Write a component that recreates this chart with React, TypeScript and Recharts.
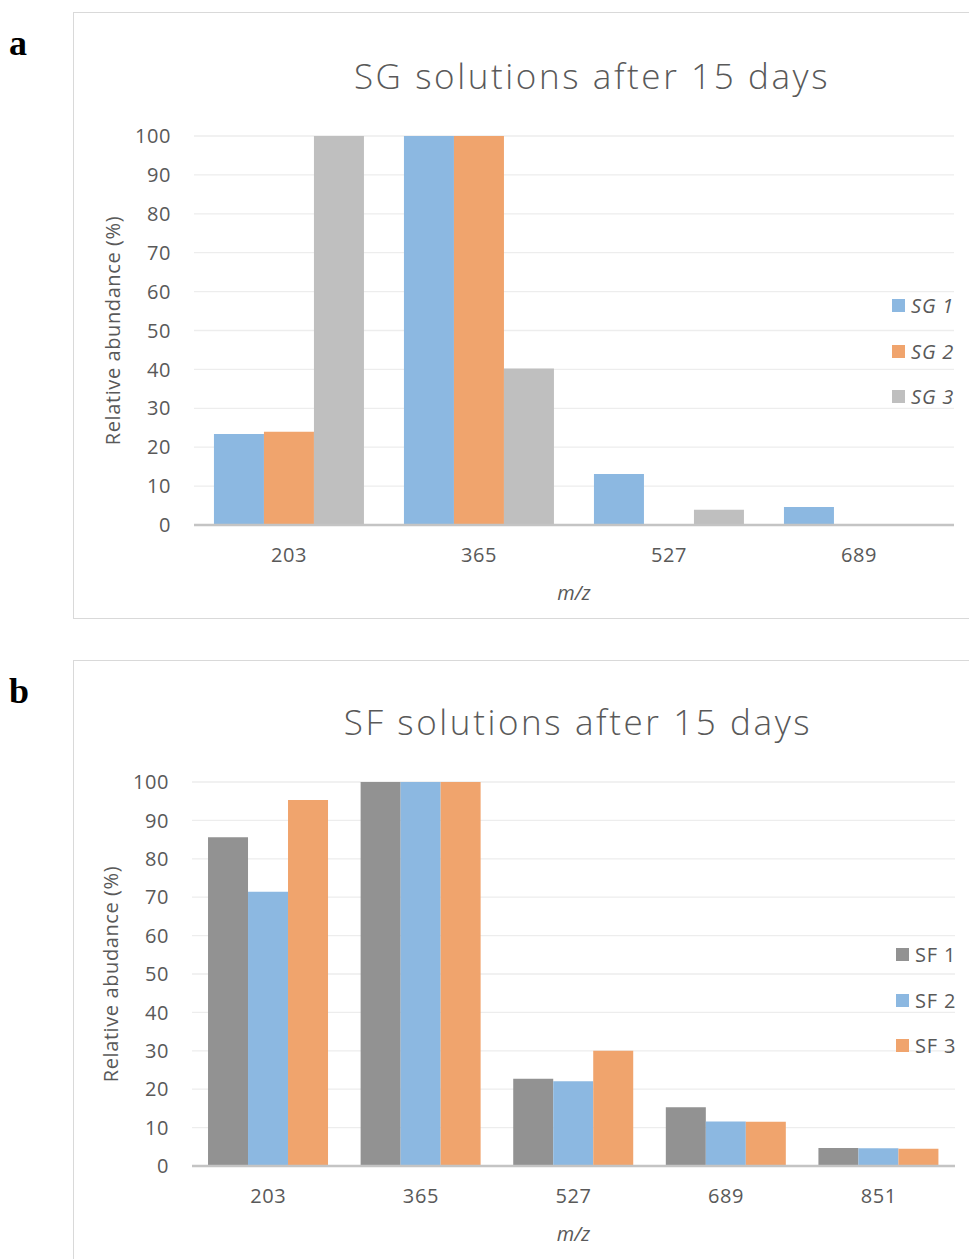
import { BarChart, Bar, XAxis, YAxis, CartesianGrid, Legend } from 'recharts'

// m/z peaks and relative abundance (%) for each solution
const sgMasses = ['203', '365', '527', '689']
const sg1 = [23.4, 100, 13.1, 4.6]
const sg2 = [24.0, 100, 0, 0]
const sg3 = [100, 40.2, 3.9, 0]

const sfMasses = ['203', '365', '527', '689', '851']
const sf1 = [85.6, 100, 22.7, 15.3, 4.7]
const sf2 = [71.4, 100, 22.1, 11.6, 4.6]
const sf3 = [95.3, 100, 30.0, 11.5, 4.5]

const yTicks = [0, 10, 20, 30, 40, 50, 60, 70, 80, 90, 100]

const BLUE = '#8CB8E1'
const ORANGE = '#F0A46D'
const LIGHT_GREY = '#BFBFBF'
const DARK_GREY = '#929292'
const TEXT = '#595959'
const FONT = '"Open Sans", sans-serif'

const sgData = sgMasses.map((mz, i) => ({ mz, sg1: sg1[i], sg2: sg2[i], sg3: sg3[i] }))
const sfData = sfMasses.map((mz, i) => ({ mz, sf1: sf1[i], sf2: sf2[i], sf3: sf3[i] }))

type Series = { key: string; name: string; color: string }

const sgSeries: Series[] = [
  { key: 'sg1', name: 'SG 1', color: BLUE },
  { key: 'sg2', name: 'SG 2', color: ORANGE },
  { key: 'sg3', name: 'SG 3', color: LIGHT_GREY }
]
const sfSeries: Series[] = [
  { key: 'sf1', name: 'SF 1', color: DARK_GREY },
  { key: 'sf2', name: 'SF 2', color: BLUE },
  { key: 'sf3', name: 'SF 3', color: ORANGE }
]

const LegendBox = ({ series, italic }: { series: Series[]; italic: boolean }) => (
  <div>
    {series.map((s) => (
      <div key={s.key} style={{ height: 45.5, display: 'flex', alignItems: 'center' }}>
        <span style={{ width: 13, height: 13, background: s.color, display: 'inline-block', marginRight: 6 }} />
        <span
          style={{
            fontFamily: FONT,
            fontSize: 20,
            letterSpacing: 0.8,
            color: TEXT,
            fontStyle: italic ? 'italic' : 'normal'
          }}
        >
          {s.name}
        </span>
      </div>
    ))}
  </div>
)

type PanelProps = {
  letter: string
  top: number
  height: number
  title: string
  titleX: number
  titleTop: number
  yLabel: string
  data: object[]
  series: Series[]
  italicLegend: boolean
  margin: { top: number; right: number; left: number; bottom: number }
  legendPos: { left: number; top: number }
}

const tickStyle = { fill: TEXT, fontSize: 20, fontFamily: FONT, letterSpacing: 0.6 }

const Panel = (p: PanelProps) => {
  const plotLeft = p.margin.left + 100
  const plotRight = 896 - p.margin.right
  const plotMid = (plotLeft + plotRight) / 2
  return (
    <>
      <div
        style={{
          position: 'absolute',
          left: 9,
          top: p.top + 13,
          fontFamily: '"Liberation Serif", serif',
          fontWeight: 'bold',
          fontSize: 36,
          lineHeight: '36px'
        }}
      >
        {p.letter}
      </div>
      <div
        style={{
          position: 'absolute',
          left: 73,
          top: p.top,
          width: 896,
          height: p.height,
          border: '1px solid #D9D9D9',
          background: '#fff'
        }}
      >
        <div
          style={{
            position: 'absolute',
            left: p.titleX - 300,
            width: 600,
            top: p.titleTop,
            textAlign: 'center',
            fontFamily: FONT,
            fontSize: 35,
            fontWeight: 300,
            letterSpacing: 2.6,
            color: TEXT,
            lineHeight: '44px'
          }}
        >
          {p.title}
        </div>
        <BarChart
          width={896}
          height={p.height}
          data={p.data}
          margin={p.margin}
          barCategoryGap="10.5%"
          barGap={0}
          style={{ position: 'absolute', left: 0, top: 0 }}
        >
          <CartesianGrid vertical={false} stroke="#EDEDED" strokeWidth={1.3} />
          <XAxis
            dataKey="mz"
            height={30}
            tickLine={false}
            tickSize={0}
            tickMargin={23}
            axisLine={{ stroke: '#C4C4C4', strokeWidth: 2.5 }}
            tick={tickStyle}
            label={{
              content: ({ viewBox }: any) => (
                <text
                  x={plotMid}
                  y={viewBox.y + 75}
                  textAnchor="middle"
                  fill={TEXT}
                  fontSize={20}
                  fontStyle="italic"
                  fontFamily={FONT}
                >
                  m/z
                </text>
              )
            }}
          />
          <YAxis
            width={100}
            domain={[0, 100]}
            ticks={yTicks}
            interval={0}
            axisLine={false}
            tickLine={false}
            tickSize={0}
            tickMargin={23}
            tick={tickStyle}
            label={{
              content: ({ viewBox }: any) => {
                const x = viewBox.x + 18
                const y = viewBox.y + viewBox.height / 2
                return (
                  <text
                    x={x}
                    y={y}
                    transform={`rotate(-90, ${x}, ${y})`}
                    textAnchor="middle"
                    dominantBaseline="central"
                    fill={TEXT}
                    fontSize={20}
                    letterSpacing={0.6}
                    fontFamily={FONT}
                  >
                    {p.yLabel}
                  </text>
                )
              }
            }}
          />
          <Legend
            layout="vertical"
            align="center"
            verticalAlign="middle"
            wrapperStyle={{ left: p.legendPos.left, top: p.legendPos.top, width: 80 }}
            content={() => <LegendBox series={p.series} italic={p.italicLegend} />}
          />
          {p.series.map((s) => (
            <Bar key={s.key} dataKey={s.key} name={s.name} fill={s.color} isAnimationActive={false} />
          ))}
        </BarChart>
      </div>
    </>
  )
}

const App = () => (
  <div style={{ position: 'absolute', left: 0, top: 0, width: 969, height: 1259, overflow: 'hidden', background: '#fff' }}>
    <Panel
      letter="a"
      top={12}
      height={605}
      title="SG solutions after 15 days"
      titleX={518}
      titleTop={41}
      yLabel="Relative abundance (%)"
      data={sgData}
      series={sgSeries}
      italicLegend={true}
      margin={{ top: 123, right: 16, left: 20, bottom: 63 }}
      legendPos={{ left: 818, top: 270 }}
    />
    <Panel
      letter="b"
      top={660}
      height={610}
      title="SF solutions after 15 days"
      titleX={504}
      titleTop={39}
      yLabel="Relative abudance (%)"
      data={sfData}
      series={sfSeries}
      italicLegend={false}
      margin={{ top: 121, right: 15, left: 18, bottom: 75 }}
      legendPos={{ left: 822, top: 271 }}
    />
  </div>
)

export default App
